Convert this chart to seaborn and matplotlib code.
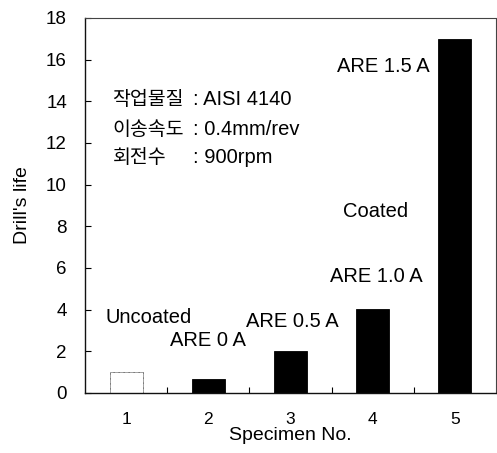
import matplotlib
matplotlib.use("Agg")
import pandas as pd
import seaborn as sns
import matplotlib.pyplot as plt
from matplotlib.ticker import FixedLocator

# --- DATA ---
specimen = ["1", "2", "3", "4", "5"]
drill_life = [1.0, 0.65, 2.0, 4.05, 17.0]
bar_colors = ["white", "black", "black", "black", "black"]

bar_labels = ["Uncoated", "ARE 0 A", "ARE 0.5 A", "ARE 1.0 A", "Coated", "ARE 1.5 A"]
label_x = [0.27, 0.99, 2.02, 3.05, 3.04, 3.13]
label_y = [3.62, 2.52, 3.43, 5.59, 8.71, 15.65]

cond_names = ["작업물질", "이송속도", "회전수"]
cond_values = [": AISI 4140", ": 0.4mm/rev", ": 900rpm"]
cond_y = [14.07, 12.63, 11.28]

LATIN = ["Liberation Sans", "DejaVu Sans"]
KOREAN = ["Noto Sans CJK KR", "DejaVu Sans"]

sns.set_style("ticks")
plt.rcParams["font.family"] = LATIN
plt.rcParams["text.color"] = "black"
plt.rcParams["axes.labelcolor"] = "black"
plt.rcParams["xtick.color"] = "black"
plt.rcParams["ytick.color"] = "black"

df = pd.DataFrame({"specimen": specimen, "life": drill_life})

fig = plt.figure(figsize=(4.97, 4.53), dpi=100)
ax = fig.add_axes([0.171, 0.1325, 0.827, 0.828])

sns.barplot(data=df, x="specimen", y="life", hue="specimen",
            palette=bar_colors, width=0.4, legend=False,
            edgecolor="black", linewidth=0.6, ax=ax)
# uncoated bar: white with thin grey outline
ax.patches[0].set_edgecolor("#444444")
ax.patches[0].set_linestyle((0, (1, 0.5)))

ax.set_xlim(-0.5, 4.5)
ax.set_ylim(0, 18)
ax.set_yticks(range(0, 19, 2))

# --- AXES STYLE ---
for side in ["left", "bottom"]:
    ax.spines[side].set_linewidth(1.0)
    ax.spines[side].set_color("#111111")
for side in ["top", "right"]:
    ax.spines[side].set_visible(True)
    ax.spines[side].set_linewidth(0.8)
    ax.spines[side].set_color("#444444")
    ax.spines[side].set_linestyle((0, (1.5, 1)))

ax.tick_params(axis="y", direction="in", length=4, width=0.8, pad=13,
               labelsize=13.5, right=False)
ax.tick_params(axis="x", which="major", length=0, pad=14, labelsize=12.5)
ax.xaxis.set_minor_locator(FixedLocator([0.5, 1.5, 2.5, 3.5]))
ax.tick_params(axis="x", which="minor", direction="in", length=4, width=0.8, top=False)

ax.set_xlabel("Specimen No.", fontsize=14, labelpad=0)
ax.set_ylabel("Drill's life", fontsize=14, labelpad=11)

# --- TEXT ---
for txt, x, y in zip(bar_labels, label_x, label_y):
    ax.text(x, y, txt, ha="center", va="center", fontsize=14.5)

for name, val, y in zip(cond_names, cond_values, cond_y):
    ax.text(-0.165, y, name, ha="left", va="center", fontsize=14, family=KOREAN)
    ax.text(0.81, y, val, ha="left", va="center", fontsize=14.5)

fig.savefig("out.png", dpi=100, facecolor="white")
